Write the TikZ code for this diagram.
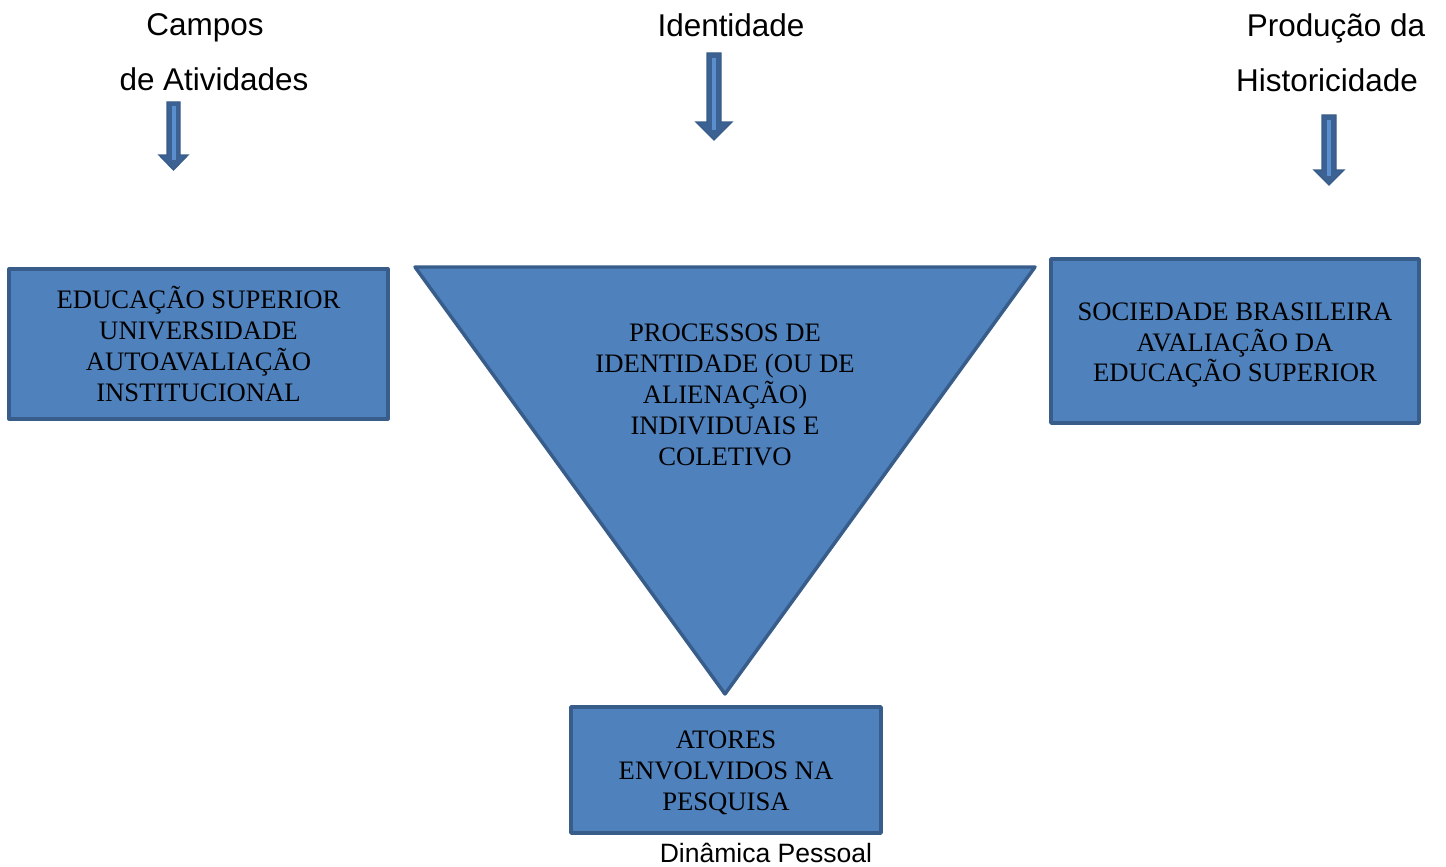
\documentclass[tikz,border=0pt]{standalone}
\usepackage{fontspec}
\setmainfont{Liberation Serif}
\newfontfamily\labelfont{Liberation Sans}
\usetikzlibrary{shapes}

\definecolor{boxfill}{RGB}{79,129,189}
\definecolor{boxline}{RGB}{56,93,138}
\definecolor{stripe}{RGB}{90,142,205}

\tikzset{
  blkbox/.style={draw=boxline, fill=boxfill, line width=2.6pt, line join=round, align=center,
    font=\fontsize{20pt}{23.2pt}\selectfont, inner sep=0pt},
  blkarrow/.style={draw=boxline, fill=boxline!85!boxfill, line width=1pt, line join=miter},
  toplabel/.style={font=\labelfont\fontsize{23.6pt}{28pt}\selectfont, anchor=base, inner sep=0.75pt},
}

\begin{document}
\begin{tikzpicture}[x=0.75pt,y=0.75pt,yscale=-1,xscale=1]
\useasboundingbox (0,0) rectangle (1446,867);

% Text Node
\node[toplabel] (campos) at (205,36) {Campos};
% Text Node
\node[toplabel] (ativ) at (214,91) {de Atividades};
% Text Node
\node[toplabel] (ident) at (731,37) {Identidade};
% Text Node
\node[toplabel] (prod) at (1336,37) {Produção da};
% Text Node
\node[toplabel] (hist) at (1327,92) {Historicidade};

%Down Arrow (left)
\draw[blkarrow] (167,102) -- (180,102) -- (180,155) -- (188,155) -- (173.5,170) -- (159,155) -- (167,155) -- cycle ;
\draw[stripe, line width=3pt] (173.5,106) -- (173.5,160) ;
%Down Arrow (middle)
\draw[blkarrow] (707,53) -- (721,53) -- (721,122) -- (732,122) -- (714,140) -- (696,122) -- (707,122) -- cycle ;
\draw[stripe, line width=3.5pt] (714,58) -- (714,130) ;
%Down Arrow (right)
\draw[blkarrow] (1322,115) -- (1336,115) -- (1336,170) -- (1344,170) -- (1329,185) -- (1314,170) -- (1322,170) -- cycle ;
\draw[stripe, line width=3pt] (1329,120) -- (1329,176) ;

%Shape: Rectangle (left)
\node[blkbox, minimum width=284pt, minimum height=112.5pt] (educ) at (198.5,344)
  {EDUCAÇÃO SUPERIOR\\UNIVERSIDADE\\AUTOAVALIAÇÃO\\INSTITUCIONAL};
%Shape: Rectangle (right)
\node[blkbox, minimum width=276pt, minimum height=123pt] (soc) at (1235,341)
  {\rule{0pt}{19.3pt}SOCIEDADE BRASILEIRA\\AVALIAÇÃO DA\\EDUCAÇÃO SUPERIOR};
%Shape: Rectangle (bottom)
\node[blkbox, minimum width=232.5pt, minimum height=94.5pt] (atores) at (726,770)
  {\rule{0pt}{18pt}ATORES\\ENVOLVIDOS NA\\PESQUISA};

%Shape: Triangle
\coordinate (triA) at (415,267);
\coordinate (triB) at (1035,267);
\coordinate (triC) at (725,694);
\draw[draw=boxline, fill=boxfill, line width=2.6pt, line join=round] (triA) -- (triB) -- (triC) -- cycle ;
% Text Node
\node[align=center, font=\fontsize{20pt}{23.2pt}\selectfont, inner sep=0pt] (proc) at (725,395)
  {PROCESSOS DE\\IDENTIDADE (OU DE\\ALIENAÇÃO)\\INDIVIDUAIS E\\COLETIVO};

% Text Node
\node[font=\labelfont\fontsize{19.9pt}{24pt}\selectfont, anchor=base, inner sep=0.75pt] (dinam) at (766,862) {Dinâmica Pessoal};

\end{tikzpicture}
\end{document}
